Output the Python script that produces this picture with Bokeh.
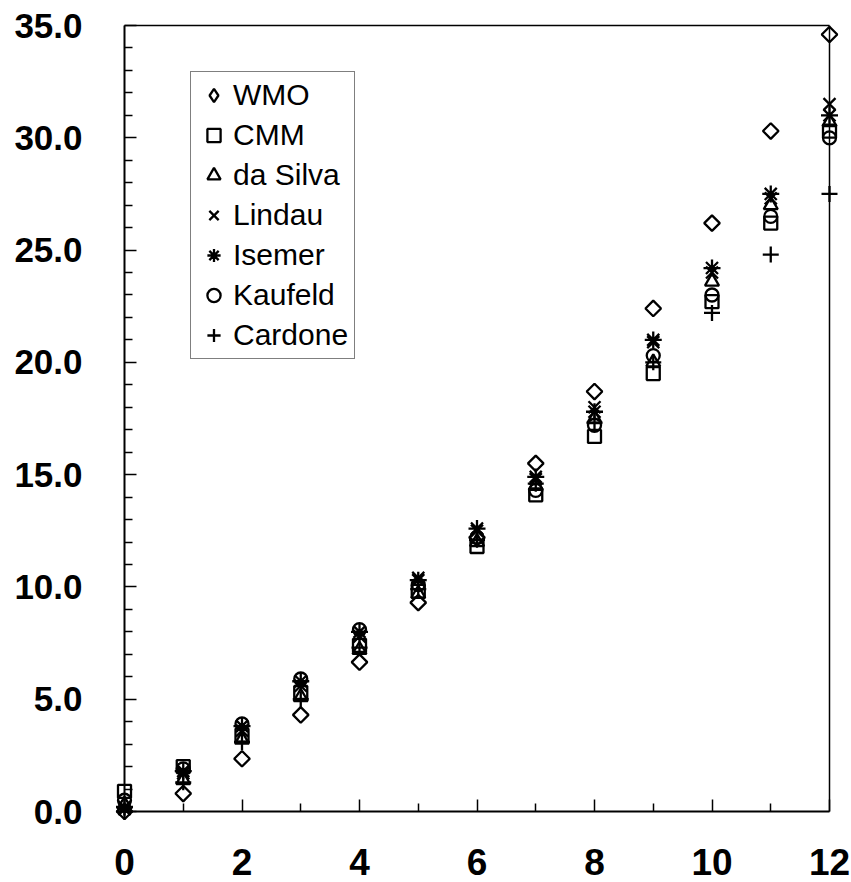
import numpy as np
from bokeh.plotting import figure
from bokeh.models import (LinearAxis, Range1d, Legend, LegendItem, FixedTicker)
from bokeh.embed import file_html
from bokeh.resources import INLINE

# ---------------- data ----------------
x_vals = [0, 1, 2, 3, 4, 5, 6, 7, 8, 9, 10, 11, 12]
wmo      = [0.0, 0.8, 2.35, 4.3, 6.65, 9.3, 12.2, 15.5, 18.7, 22.4, 26.2, 30.3, 34.6]
cmm      = [0.9, 2.0, 3.4, 5.3, 7.4, 9.8, 11.8, 14.1, 16.7, 19.5, 22.7, 26.2, 30.3]
da_silva = [0.3, 1.4, 3.2, 5.1, 7.2, 9.7, 12.0, 14.5, 17.5, 20.0, 23.6, 27.0, 30.7]
lindau   = [0.1, 1.7, 3.6, 5.6, 7.8, 10.4, 12.5, 14.8, 18.0, 20.9, 24.0, 27.3, 31.5]
isemer   = [0.2, 1.8, 3.8, 5.8, 8.0, 10.3, 12.6, 14.9, 17.8, 21.0, 24.2, 27.5, 31.0]
kaufeld  = [0.5, 1.9, 3.9, 5.9, 8.1, 10.1, 12.2, 14.3, 17.2, 20.3, 23.0, 26.5, 30.0]
cardone  = [0.0, 1.3, 3.1, 5.0, 7.3, 9.9, 12.1, 14.6, 17.3, 20.0, 22.2, 24.8, 27.5]

series_names = ["WMO", "CMM", "da Silva", "Lindau", "Isemer", "Kaufeld", "Cardone"]

x_major_ticks = [0, 2, 4, 6, 8, 10, 12]
x_minor_ticks = [1, 3, 5, 7, 9, 11]
x_tick_labels = ["0", "2", "4", "6", "8", "10", "12"]
y_major_ticks = [0, 5, 10, 15, 20, 25, 30, 35]
y_minor_ticks = [1, 2, 3, 4, 6, 7, 8, 9, 11, 12, 13, 14, 16, 17, 18, 19,
                 21, 22, 23, 24, 26, 27, 28, 29, 31, 32, 33, 34]
y_tick_labels = ["0.0", "5.0", "10.0", "15.0", "20.0", "25.0", "30.0", "35.0"]

X_MIN, X_MAX = 0, 12
Y_MIN, Y_MAX = 0, 35

# ---------------- layout (pixels) ----------------
W, H = 851, 882
B_LEFT, B_TOP = 112, 17
FRAME_W, FRAME_H = 729, 806
B_RIGHT = W - B_LEFT - FRAME_W
B_BOTTOM = H - B_TOP - FRAME_H
PAD_L, PAD_R, PAD_T, PAD_B = 12, 12, 8, 12
ppx = (FRAME_W - PAD_L - PAD_R) / (X_MAX - X_MIN)
ppy = (FRAME_H - PAD_T - PAD_B) / (Y_MAX - Y_MIN)

x_range = Range1d(X_MIN - PAD_L / ppx, X_MAX + PAD_R / ppx)
y_range = Range1d(Y_MIN - PAD_B / ppy, Y_MAX + PAD_T / ppy)

FONT = "Liberation Sans"

p = figure(width=W, height=H, x_range=x_range, y_range=y_range,
           output_backend="svg", toolbar_location=None,
           min_border_left=B_LEFT, min_border_right=B_RIGHT,
           min_border_top=B_TOP, min_border_bottom=B_BOTTOM)
p.outline_line_color = None
p.xgrid.grid_line_color = None
p.ygrid.grid_line_color = None
p.background_fill_color = "white"
p.border_fill_color = "white"

# label-only default axes
xa = p.xaxis[0]
xa.ticker = FixedTicker(ticks=x_major_ticks)
xa.major_label_overrides = dict(zip(x_major_ticks, x_tick_labels))
xa.axis_line_color = None
xa.major_tick_line_color = None
xa.minor_tick_line_color = None
xa.major_tick_out = 0
xa.major_tick_in = 0
xa.minor_tick_out = 0
xa.major_label_standoff = 25
xa.major_label_text_font = FONT
xa.major_label_text_font_style = "bold"
xa.major_label_text_font_size = "37px"
xa.major_label_text_color = "black"

ya = p.yaxis[0]
ya.ticker = FixedTicker(ticks=y_major_ticks)
ya.major_label_overrides = dict(zip(y_major_ticks, y_tick_labels))
ya.axis_line_color = None
ya.major_tick_line_color = None
ya.minor_tick_line_color = None
ya.major_tick_out = 0
ya.major_tick_in = 0
ya.minor_tick_out = 0
ya.major_label_standoff = 30
ya.major_label_text_font = FONT
ya.major_label_text_font_style = "bold"
ya.major_label_text_font_size = "35px"
ya.major_label_text_color = "black"


def frame_axis(loc, bounds, major=None, minor=None, width=2.0):
    ax = LinearAxis(fixed_location=loc, bounds=bounds,
                    axis_line_color="black", axis_line_width=width,
                    major_tick_out=0, minor_tick_out=0,
                    major_label_text_font_size="1px",
                    major_label_standoff=0)
    if major is not None:
        ax.ticker = FixedTicker(ticks=major, minor_ticks=minor)
        ax.major_label_overrides = {t: "" for t in major}
        ax.major_tick_in = 12
        ax.minor_tick_in = 8
        ax.major_tick_line_color = "black"
        ax.minor_tick_line_color = "black"
        ax.major_tick_line_width = 1.5
        ax.minor_tick_line_width = 1.5
    else:
        ax.ticker = FixedTicker(ticks=[])
        ax.major_tick_line_color = None
        ax.minor_tick_line_color = None
    return ax


ax_left = frame_axis(X_MIN, (Y_MIN, Y_MAX), y_major_ticks, y_minor_ticks)
ax_below = frame_axis(Y_MIN, (X_MIN, X_MAX), x_major_ticks, x_minor_ticks)
p.add_layout(ax_left, "left")
p.add_layout(ax_below, "below")
p.add_layout(frame_axis(Y_MAX, (X_MIN, X_MAX), None, None, 1.5), "above")
p.add_layout(frame_axis(X_MAX, (Y_MIN, Y_MAX), None, None, 1.5), "right")

# ---------------- markers ----------------
styles = [
    ("square", 11, np.pi / 4),   # WMO diamond (rotated square)
    ("square", 13, 0.0),         # CMM
    ("triangle", 14, 0.0),       # da Silva
    ("x", 17, 0.0),              # Lindau
    ("asterisk", 17, 0.0),       # Isemer
    ("circle", 13, 0.0),         # Kaufeld
    ("cross", 16, 0.0),          # Cardone
]
all_series = [wmo, cmm, da_silva, lindau, isemer, kaufeld, cardone]

items = []
for i, (name, ys, (mk, sz, ang)) in enumerate(zip(series_names, all_series, styles)):
    r = p.scatter(x_vals, ys, marker=mk, size=sz, angle=ang,
                  line_color="black", line_width=2.3, fill_color=None)
    if i == 0:
        # legend swatch for the diamond (legend glyphs ignore angle)
        r_leg = p.scatter(x_vals, ys, marker="diamond", size=0,
                          line_color="black", line_width=2.3, fill_color=None)
        items.append(LegendItem(label=name, renderers=[r_leg]))
    else:
        items.append(LegendItem(label=name, renderers=[r]))

legend = Legend(items=items, location=(78, 464), margin=0,
                glyph_width=33, glyph_height=34, label_height=34,
                spacing=6, padding=6, label_standoff=3,
                label_text_font=FONT, label_text_font_size="30px",
                label_text_color="black",
                border_line_color="black", border_line_width=1.5,
                background_fill_color="white", background_fill_alpha=1.0)
p.add_layout(legend)

open("out.html", "w").write(file_html(p, INLINE))
